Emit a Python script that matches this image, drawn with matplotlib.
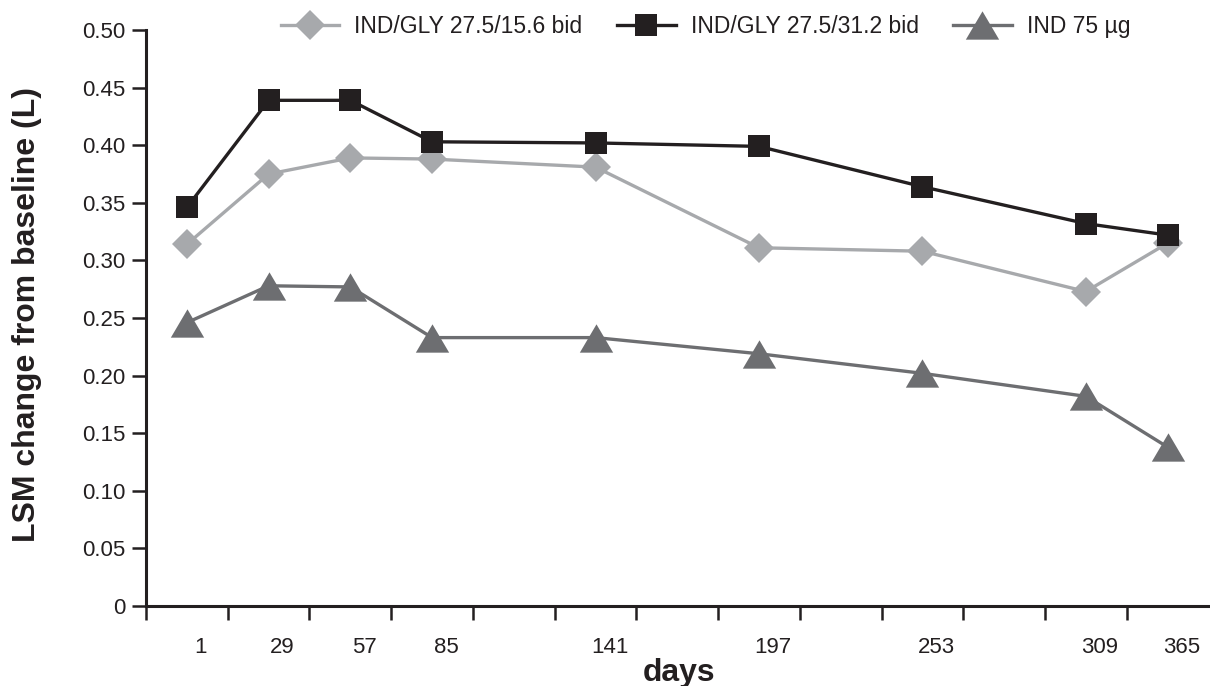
import matplotlib
matplotlib.use("Agg")
import matplotlib.pyplot as plt
from matplotlib.ticker import FixedLocator, FixedFormatter
from matplotlib.transforms import ScaledTranslation

plt.rcParams['font.family'] = ['Liberation Sans', 'DejaVu Sans']

# Visit days and their slot on the (categorical, gapped) x axis
days = [1, 29, 57, 85, 141, 197, 253, 309, 365]
day_slots = [0, 1, 2, 3, 5, 7, 9, 11, 12]
day_labels = ["1", "29", "57", "85", "141", "197", "253", "309", "365"]
gly_15_6 = [0.314, 0.375, 0.389, 0.388, 0.381, 0.311, 0.308, 0.273, 0.315]
gly_31_2 = [0.346, 0.439, 0.439, 0.403, 0.402, 0.399, 0.364, 0.332, 0.322]
ind_75 = [0.246, 0.278, 0.277, 0.233, 0.233, 0.219, 0.202, 0.182, 0.138]
series_names = ["IND/GLY 27.5/15.6 bid", "IND/GLY 27.5/31.2 bid", "IND 75 µg"]
y_ticks = [0, 0.05, 0.10, 0.15, 0.20, 0.25, 0.30, 0.35, 0.40, 0.45, 0.50]
y_tick_labels = ["0", "0.05", "0.10", "0.15", "0.20", "0.25", "0.30", "0.35",
                 "0.40", "0.45", "0.50"]

c_light = "#a7a9ac"
c_black = "#231f20"
c_dark = "#6d6e71"

fig = plt.figure(figsize=(12.1, 6.86), dpi=100)
ax = fig.add_axes([0.1207, 0.1166, 0.878, 0.8396])

tri = [(-1, -0.85), (1, -0.85), (0, 0.85)]
ax.plot(day_slots, gly_15_6, color=c_light, lw=2.4, marker="D", ms=15,
        mew=0, label=series_names[0], zorder=3)
ax.plot(day_slots, gly_31_2, color=c_black, lw=2.4, marker="s", ms=16.5,
        mew=0, label=series_names[1], zorder=4)
ax.plot(day_slots, ind_75, color=c_dark, lw=2.4, marker=tri, ms=24,
        mew=0, label=series_names[2], zorder=2)

ax.set_xlim(-0.5, 12.5)
ax.set_ylim(0, 0.5)

# major ticks at slot boundaries (no labels), labels at visit slots
bounds = [k - 0.5 for k in range(13)]
ax.xaxis.set_major_locator(FixedLocator(bounds))
ax.xaxis.set_major_formatter(FixedFormatter([""] * len(bounds)))
ax.xaxis.set_minor_locator(FixedLocator(day_slots))
ax.xaxis.set_minor_formatter(FixedFormatter(day_labels))
ax.tick_params(axis="x", which="major", length=10, width=1.8, direction="out",
               color=c_black)
ax.tick_params(axis="x", which="minor", length=0, pad=22, labelsize=16,
               labelcolor=c_black)
shift = ScaledTranslation(0.14, 0, fig.dpi_scale_trans)
for lab in ax.xaxis.get_minorticklabels():
    lab.set_transform(lab.get_transform() + shift)

ax.yaxis.set_major_locator(FixedLocator(y_ticks))
ax.yaxis.set_major_formatter(FixedFormatter(y_tick_labels))
ax.tick_params(axis="y", length=10, width=1.8, direction="out", pad=5,
               labelsize=16, color=c_black, labelcolor=c_black)

for s in ["top", "right"]:
    ax.spines[s].set_visible(False)
for s in ["left", "bottom"]:
    ax.spines[s].set_linewidth(2.2)
    ax.spines[s].set_color(c_black)

fig.text(27 / 1210, 1 - 314.5 / 686, "LSM change from baseline (L)",
         fontsize=23, fontweight="bold", color=c_black, rotation=90,
         ha="center", va="center")
fig.text(0.561, 0.0073, "days", fontsize=23, fontweight="bold", color=c_black,
         ha="center", va="baseline")

leg = fig.legend(loc="center", bbox_to_anchor=(0.583, 0.961), ncol=3,
                 frameon=False, fontsize=16.5, handlelength=2.57,
                 handletextpad=0.65, columnspacing=1.5, borderpad=0,
                 borderaxespad=0)
for t in leg.get_texts():
    t.set_color(c_black)

fig.savefig("out.png", dpi=100)
